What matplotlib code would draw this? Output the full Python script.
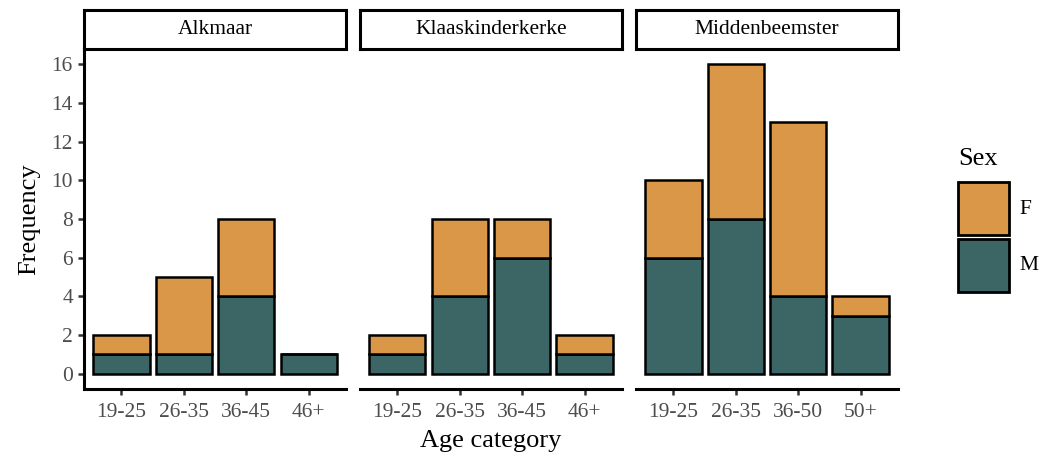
import matplotlib.pyplot as plt
from matplotlib.patches import Rectangle

plt.rcParams['font.family'] = ['Liberation Serif', 'DejaVu Serif']

sites = ['Alkmaar', 'Klaaskinderkerke', 'Middenbeemster']
age_cats = [['19-25', '26-35', '36-45', '46+'],
            ['19-25', '26-35', '36-45', '46+'],
            ['19-25', '26-35', '36-50', '50+']]
male = [[1, 1, 4, 1],
        [1, 4, 6, 1],
        [6, 8, 4, 3]]
female = [[1, 4, 4, 0],
          [1, 4, 2, 1],
          [4, 8, 9, 1]]
legend_labels = ['F', 'M']

col_f = '#DB9748'
col_m = '#3B6665'

fig = plt.figure(figsize=(10.42, 4.61), dpi=100)
W, H = 1042, 461
lefts = [84, 360, 636]
pw = 262
ax_top, ax_bot = 49, 389
strip_top = 10

for i, site in enumerate(sites):
    l = lefts[i] / W
    ax = fig.add_axes([l, (H - ax_bot) / H, pw / W, (ax_bot - ax_top) / H])
    x = list(range(1, len(age_cats[i]) + 1))
    ax.bar(x, male[i], width=0.9, color=col_m, edgecolor='black', linewidth=1.8, zorder=2)
    ax.bar(x, female[i], width=0.9, bottom=male[i], color=col_f, edgecolor='black',
           linewidth=1.8, zorder=2)
    ax.set_xlim(0.4, 4.6)
    ax.set_ylim(-0.8, 16.8)
    ax.set_xticks(x)
    ax.set_xticklabels(age_cats[i])
    ax.set_yticks(range(0, 17, 2))
    ax.tick_params(axis='both', length=4, width=1.8, color='#333333', labelsize=15.5,
                   labelcolor='#4D4D4D', pad=4)
    ax.tick_params(axis='x', pad=6)
    for s in ['top', 'right']:
        ax.spines[s].set_visible(False)
    ax.spines['bottom'].set_linewidth(2.2)
    ax.spines['left'].set_linewidth(2.2)
    if i > 0:
        ax.spines['left'].set_visible(False)
        ax.tick_params(axis='y', left=False, labelleft=False)
    else:
        ax.set_ylabel('Frequency', fontsize=19, labelpad=8)
    if i == 1:
        ax.set_xlabel('Age category', fontsize=19, labelpad=6)

    sax = fig.add_axes([l, (H - ax_top) / H, pw / W, (ax_top - strip_top) / H])
    sax.set_xticks([])
    sax.set_yticks([])
    for s in sax.spines.values():
        s.set_linewidth(2.2)
    sax.text(0.5, 0.5, site, ha='center', va='center', fontsize=15.5,
             transform=sax.transAxes)

# legend drawn by hand so the keys get ggplot-like size
fig.text(958 / W, 1 - 159 / H, 'Sex', fontsize=19, ha='left', va='center')
for k, (lab, col) in enumerate(zip(legend_labels, [col_f, col_m])):
    y0 = 182 + k * 57
    fig.add_artist(Rectangle((958 / W, 1 - (y0 + 53) / H), 51 / W, 53 / H,
                             facecolor=col, edgecolor='black', linewidth=2.0,
                             transform=fig.transFigure))
    fig.text(1019 / W, 1 - (y0 + 27) / H, lab, fontsize=15.5, ha='left', va='center')

fig.savefig('out.png', dpi=100)
